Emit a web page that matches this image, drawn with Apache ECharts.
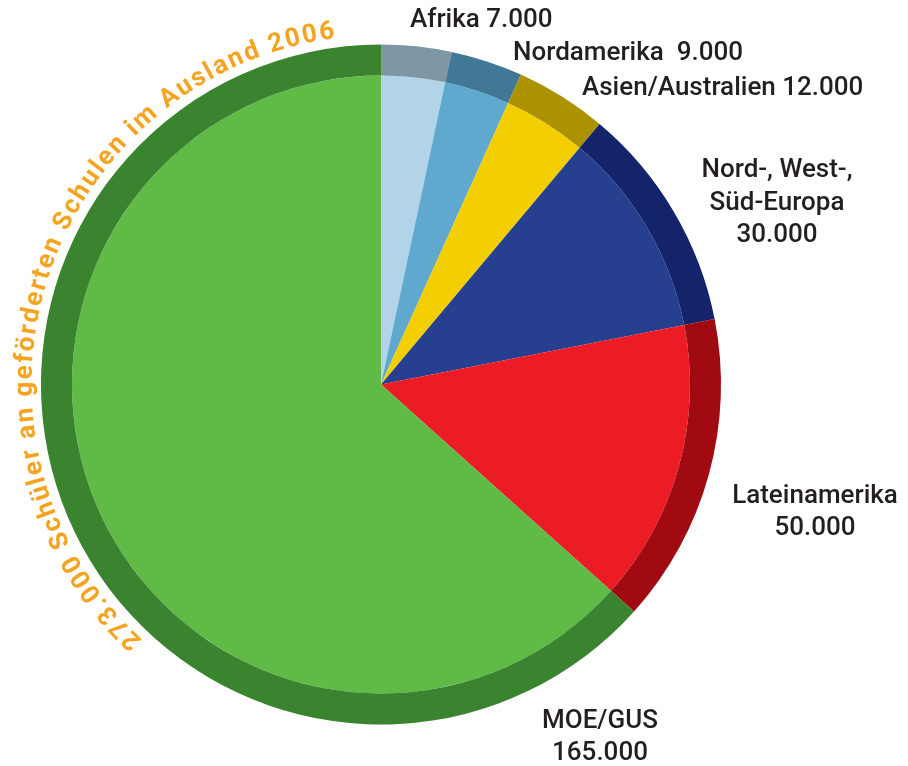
<!DOCTYPE html>
<html>
<head>
<meta charset="utf-8">
<script src="https://cdn.jsdelivr.net/npm/echarts@6/dist/echarts.min.js"></script>
<style>
html,body{margin:0;padding:0;background:#fff;}
#chart{width:908px;height:766px;}
</style>
</head>
<body>
<div id="chart"></div>
<script>
// ---- data ----
var categories = ['Afrika', 'Nordamerika', 'Asien/Australien', 'Nord-, West-, Süd-Europa', 'Lateinamerika', 'MOE/GUS'];
var labelValues = [7000, 9000, 12000, 30000, 50000, 165000];
// slice sizes as drawn in the picture (degrees of the circle)
var drawnShares = [12.0, 12.3, 15.7, 38.9, 53.0, 228.1];
var labelTexts = ['Afrika 7.000', 'Nordamerika  9.000', 'Asien/Australien 12.000', 'Nord-, West-,\nSüd-Europa\n30.000', 'Lateinamerika\n50.000', 'MOE/GUS\n165.000'];
var titleText = '273.000 Schüler an geförderten Schulen im Ausland 2006';

// ---- styles ----
var innerColors = ['#b3d3e8', '#5fa8ce', '#f4cf00', '#263f8e', '#ec1c24', '#60bb46'];
var outerColors = ['#7f96a4', '#417896', '#ad9200', '#13246a', '#a20a12', '#3a8430'];
var cx = 381, cy = 384.5, rIn = 309, rOut = 340;
var labelFont = '500 26px Roboto';
var labelColor = '#231f20';

function pieData(colors) {
  return categories.map(function (c, i) {
    return { name: c, value: drawnShares[i], itemStyle: { color: colors[i] } };
  });
}

// labels
var labelPos = [
  { x: 410, y: 20, align: 'left' },
  { x: 513, y: 53.5, align: 'left' },
  { x: 582, y: 88, align: 'left' },
  { x: 777, y: 203, align: 'center', lh: 32.5 },
  { x: 815, y: 512, align: 'center', lh: 32 },
  { x: 600, y: 737, align: 'center', lh: 32 }
];
var graphics = labelTexts.map(function (t, i) {
  var p = labelPos[i];
  return {
    type: 'text', x: p.x, y: p.y, silent: true,
    style: { text: t, font: labelFont, fill: labelColor, align: p.align, verticalAlign: 'middle', lineHeight: p.lh || 30 }
  };
});

// curved title text along the circle
(function () {
  var font = 'bold 26px Roboto';
  var ctx = document.createElement('canvas').getContext('2d');
  ctx.font = font;
  var chars = Array.from(titleText);
  var widths = chars.map(function (ch) { return ctx.measureText(ch).width; });
  var rb = 346; // baseline radius
  var rMid = rb + 10;
  var startDeg = 223, endDeg = 352.5;
  var totalArc = (endDeg - startDeg) * Math.PI / 180 * rb;
  var sumW = widths.reduce(function (a, b) { return a + b; }, 0);
  var spacing = (totalArc - sumW) / (chars.length - 1);
  var pos = 0;
  chars.forEach(function (ch, i) {
    var centerArc = pos + widths[i] / 2;
    var th = startDeg * Math.PI / 180 + centerArc / rb;
    pos += widths[i] + spacing;
    if (ch === ' ') return;
    graphics.push({
      type: 'text', silent: true,
      x: cx + rMid * Math.sin(th), y: cy - rMid * Math.cos(th),
      rotation: -th,
      style: { text: ch, font: font, fill: '#f6a41f', align: 'center', verticalAlign: 'middle' }
    });
  });
})();

var chart = echarts.init(document.getElementById('chart'), null, { renderer: 'canvas' });
chart.setOption({
  animation: false,
  backgroundColor: '#ffffff',
  series: [
    {
      type: 'pie', center: [cx, cy], radius: [0, rIn], startAngle: 90, clockwise: true,
      label: { show: false }, labelLine: { show: false }, silent: true,
      itemStyle: { borderWidth: 0 },
      data: pieData(innerColors)
    },
    {
      type: 'pie', center: [cx, cy], radius: [rIn, rOut], startAngle: 90, clockwise: true,
      label: { show: false }, labelLine: { show: false }, silent: true,
      itemStyle: { borderWidth: 0 },
      data: pieData(outerColors)
    }
  ],
  graphic: graphics
});
</script>
</body>
</html>
